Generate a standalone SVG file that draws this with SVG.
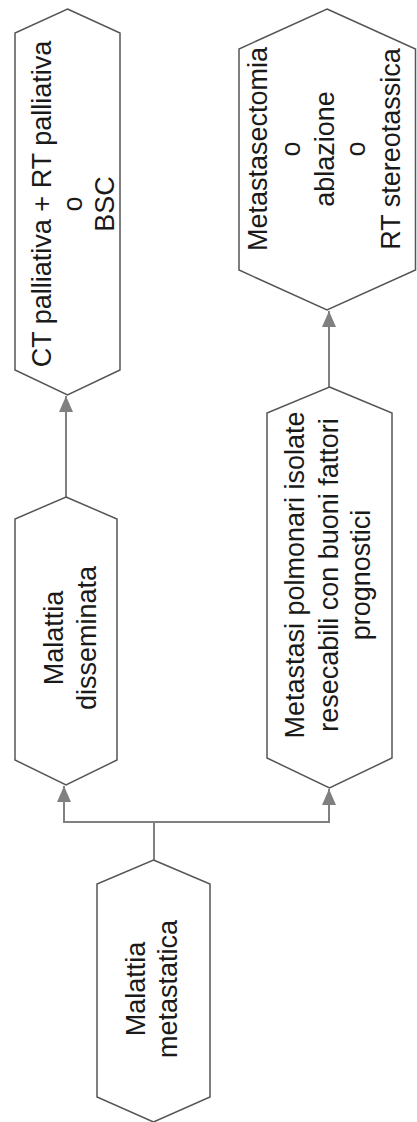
<svg xmlns="http://www.w3.org/2000/svg" width="417" height="1122" viewBox="0 0 417 1122">
<style>
.node{fill:#fff;stroke:#555;stroke-width:1.5;stroke-linejoin:miter}
.lbl{font-family:"Liberation Sans",Arial,sans-serif;font-size:27px;fill:#1a1a1a;text-anchor:middle}
.conn{fill:none;stroke:#808080;stroke-width:2}
</style>
<defs>
<marker id="arr" markerUnits="userSpaceOnUse" markerWidth="16" markerHeight="14" refX="16" refY="7" orient="auto">
<path d="M0,0 L16,7 L0,14 z" fill="#808080"/>
</marker>
</defs>
<rect width="417" height="1122" fill="#fff"/>
<g id="connectors">
<line class="conn" x1="66" y1="497" x2="66" y2="396" marker-end="url(#arr)"/>
<line class="conn" x1="329" y1="387" x2="329" y2="311" marker-end="url(#arr)"/>
<polyline class="conn" points="154,860 154,822"/>
<polyline class="conn" points="154,822 64,822 64,786" marker-end="url(#arr)"/>
<polyline class="conn" points="154,822 329,822 329,789" marker-end="url(#arr)"/>
</g>
<g id="node-ct">
<polygon class="node" points="67.5,9 120,33 120,370 67.5,395 15,370 15,33"/>
<text class="lbl" transform="translate(51,204) rotate(-90)">CT palliativa + RT palliativa</text>
<text class="lbl" transform="translate(82,204) rotate(-90)">o</text>
<text class="lbl" transform="translate(114,204) rotate(-90)">BSC</text>
</g>
<g id="node-metastasectomia">
<polygon class="node" points="327,9 415.5,49 415.5,270 327,310 239,270 239,49"/>
<text class="lbl" transform="translate(267,149) rotate(-90)">Metastasectomia</text>
<text class="lbl" transform="translate(300,149) rotate(-90)">o</text>
<text class="lbl" transform="translate(334,149) rotate(-90)">ablazione</text>
<text class="lbl" transform="translate(365,149) rotate(-90)">o</text>
<text class="lbl" transform="translate(400,149) rotate(-90)">RT stereotassica</text>
</g>
<g id="node-disseminata">
<polygon class="node" points="66,497 117,519 117,760 66,785 15,760 15,519"/>
<text class="lbl" transform="translate(63,638) rotate(-90)">Malattia</text>
<text class="lbl" transform="translate(96,638) rotate(-90)">disseminata</text>
</g>
<g id="node-polmonari">
<polygon class="node" points="329.5,387 392,413 392,758 329.5,788 267,758 267,413"/>
<text class="lbl" transform="translate(304,575) rotate(-90)">Metastasi polmonari isolate</text>
<text class="lbl" transform="translate(338,575) rotate(-90)">resecabili con buoni fattori</text>
<text class="lbl" transform="translate(370,575) rotate(-90)">prognostici</text>
</g>
<g id="node-metastatica">
<polygon class="node" points="153.5,860 210,884 210,1097 153.5,1122 97,1097 97,884"/>
<text class="lbl" transform="translate(145,989) rotate(-90)">Malattia</text>
<text class="lbl" transform="translate(177,989) rotate(-90)">metastatica</text>
</g>
</svg>
